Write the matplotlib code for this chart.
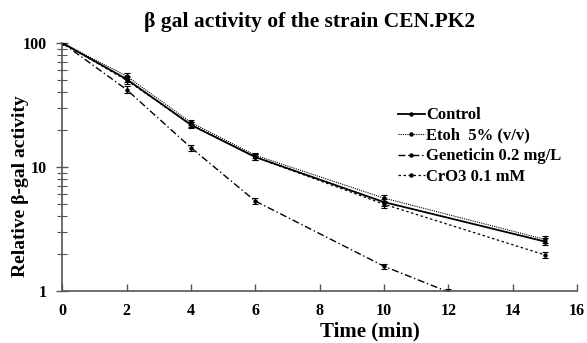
import matplotlib
matplotlib.use("Agg")
import matplotlib.pyplot as plt
from matplotlib.lines import Line2D
from matplotlib.ticker import LogLocator, NullFormatter

plt.rcParams['font.family'] = ['Liberation Serif', 'DejaVu Serif']
plt.rcParams['font.weight'] = 'bold'

# data
time = [0, 2, 4, 6, 10, 15]
control = [100, 51, 21.8, 12.0, 5.2, 2.5]
control_err = [2, 3, 1.2, 0.6, 0.35, 0.15]
etoh = [100, 54, 22.8, 12.4, 5.6, 2.6]
etoh_err = [2, 3, 1.2, 0.6, 0.35, 0.15]
gen_time = [0, 2, 4, 6, 10, 12]
geneticin = [100, 42, 14.3, 5.3, 1.58, 0.98]
gen_err = [2, 2.5, 0.8, 0.3, 0.08, 0.05]
cro3 = [100, 50, 22.0, 12.0, 5.0, 1.95]
cro3_err = [2, 3, 1.2, 0.6, 0.3, 0.12]

labels = ['Control', 'Etoh  5% (v/v)', 'Geneticin 0.2 mg/L', 'CrO3 0.1 mM']
styles = ['-', (0, (1, 1)), (0, (5, 2, 1, 2)), (0, (2, 2))]
widths = [1.3, 0.8, 1.0, 0.9]

fig = plt.figure(figsize=(5.87, 3.43), dpi=100)
ax = fig.add_axes([0.106, 0.152, 0.877, 0.723])

series = [(time, control, control_err), (time, etoh, etoh_err),
          (gen_time, geneticin, gen_err), (time, cro3, cro3_err)]
handles = []
for (x, y, e), ls, lw, lab in zip(series, styles, widths, labels):
    ax.errorbar(x, y, yerr=e, color='black', linestyle=ls, linewidth=lw,
                marker='o', markersize=2.2, capsize=2, elinewidth=0.8, capthick=0.8)
    handles.append(Line2D([], [], color='black', linestyle=ls, linewidth=lw,
                          marker='o', markersize=2.2, label=lab))

ax.set_yscale('log')
ax.set_ylim(1, 100)
ax.set_xlim(0, 16)
ax.set_xticks(range(0, 17, 2))
ax.set_yticks([1, 10, 100])
ax.set_yticklabels(['1', '10', '100'])
ax.yaxis.set_minor_locator(LogLocator(base=10, subs=range(2, 10)))
ax.yaxis.set_minor_formatter(NullFormatter())

for s in ['top', 'right']:
    ax.spines[s].set_visible(False)
for s in ['left', 'bottom']:
    ax.spines[s].set_color('#555555')
    ax.spines[s].set_linewidth(1.2)

ax.tick_params(axis='y', which='major', direction='inout', length=8, width=1.0, labelsize=11.5, pad=7, color='#555555')
ax.tick_params(axis='y', which='minor', direction='inout', length=7, width=0.8, color='#555555')
ax.tick_params(axis='x', direction='in', length=5, width=1.0, labelsize=11.5, pad=9, color='#555555')

ax.set_xlabel('Time (min)', fontsize=15, fontweight='bold', va='center')
ax.xaxis.set_label_coords(0.598, -0.163)
ax.set_ylabel('Relative β-gal activity', fontsize=14, fontweight='bold', va='center')
ax.yaxis.set_label_coords(-0.082, 0.423)
fig.text(0.528, 0.936, 'β gal activity of the strain CEN.PK2', fontsize=15.5, fontweight='bold',
         ha='center', va='center')

leg = ax.legend(handles=handles, loc='upper left', bbox_to_anchor=(0.652, 0.74), frameon=False,
                fontsize=12, handlelength=1.6, handletextpad=0.1, labelspacing=0.27, borderaxespad=0,
                borderpad=0)
for t in leg.get_texts():
    t.set_fontweight('bold')

fig.savefig('out.png', dpi=100)
